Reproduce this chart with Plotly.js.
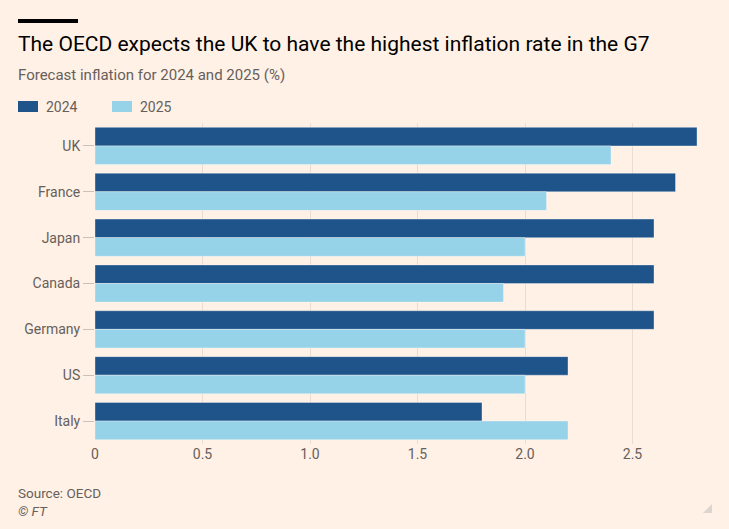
<!DOCTYPE html>
<html><head><meta charset="utf-8">
<script src="https://cdn.plot.ly/plotly-3.0.1.min.js"></script>
<style>html,body{margin:0;padding:0;background:#fff1e5;}#chart{width:729px;height:529px;}</style>
</head><body><div id="chart"></div>
<script>
const countries = ["UK","France","Japan","Canada","Germany","US","Italy"];
const seriesNames = ["2024","2025"];
const values2024 = [2.8,2.7,2.6,2.6,2.6,2.2,1.8];
const values2025 = [2.4,2.1,2.0,1.9,2.0,2.0,2.2];
const xTicks = [0,0.5,1,1.5,2,2.5];
const xTickLabels = ["0","0.5","1.0","1.5","2.0","2.5"];

const colors = ["#1f548a","#96d2e8"];
const font = "Roboto, 'Noto Sans', sans-serif";
const traces = [values2024, values2025].map((v,i)=>({
  type:"bar", orientation:"h", y:countries, x:v, name:seriesNames[i],
  marker:{color:colors[i], line:{color:"rgba(255,255,255,0.35)", width:1}},
  hoverinfo:"x+y", showlegend:false
}));

const W = 602, H = 321, T = 123, B = 444, L = 95;
const px = x => (x - L) / W;
const py = y => (B - y) / H;

const layout = {
  width:729, height:529,
  paper_bgcolor:"#fff1e5", plot_bgcolor:"#fff1e5",
  margin:{l:95, r:32, t:123, b:85},
  barmode:"group", bargap:0.19, bargroupgap:0,
  font:{family:font, color:"#66605c", size:13},
  xaxis:{range:[0,2.8], tickvals:xTicks, ticktext:xTickLabels, showgrid:true,
    gridcolor:"#e9ddd2", gridwidth:1, zeroline:false, showline:false, ticks:"",
    tickfont:{size:14, color:"#66605c"}, fixedrange:true},
  yaxis:{autorange:"reversed", showgrid:false, ticks:"outside", ticklen:11, tickcolor:"#ccc1b7",
    tickfont:{size:14, color:"#66605c"}, showline:false, zeroline:false, fixedrange:true},
  shapes:[
    {type:"rect", xref:"paper", yref:"paper", x0:px(18), x1:px(78), y0:py(19), y1:py(23), fillcolor:"#000", line:{width:0}},
    {type:"rect", xref:"paper", yref:"paper", x0:px(18), x1:px(38), y0:py(101), y1:py(112), fillcolor:colors[0], line:{width:0}},
    {type:"rect", xref:"paper", yref:"paper", x0:px(112), x1:px(132), y0:py(101), y1:py(112), fillcolor:colors[1], line:{width:0}},
    {type:"path", xref:"paper", yref:"paper",
      path:"M "+px(712)+","+py(504)+" L "+px(712)+","+py(513)+" L "+px(703)+","+py(513)+" Z",
      fillcolor:"#ddd5cf", line:{width:0}}
  ],
  annotations:[
    {text:"The OECD expects the UK to have the highest inflation rate in the G7", xref:"paper", yref:"paper",
      x:px(18), y:py(44), xanchor:"left", yanchor:"middle", showarrow:false, xshift:-2,
      font:{family:font, size:21, color:"#000"}},
    {text:"Forecast inflation for 2024 and 2025 (%)", xref:"paper", yref:"paper",
      x:px(18), y:py(75), xanchor:"left", yanchor:"middle", showarrow:false, xshift:-2,
      font:{family:font, size:15, color:"#66605c"}},
    {text:seriesNames[0], xref:"paper", yref:"paper", x:px(46), y:py(106.5), xanchor:"left", yanchor:"middle", showarrow:false, xshift:-2,
      font:{family:font, size:14, color:"#66605c"}},
    {text:seriesNames[1], xref:"paper", yref:"paper", x:px(140), y:py(106.5), xanchor:"left", yanchor:"middle", showarrow:false, xshift:-2,
      font:{family:font, size:14, color:"#66605c"}},
    {text:"Source: OECD", xref:"paper", yref:"paper", x:px(18), y:py(493), xanchor:"left", yanchor:"middle", showarrow:false, xshift:-2,
      font:{family:font, size:13.5, color:"#66605c"}},
    {text:"<i>© FT</i>", xref:"paper", yref:"paper", x:px(18), y:py(511), xanchor:"left", yanchor:"middle", showarrow:false, xshift:-2,
      font:{family:font, size:13.5, color:"#66605c"}}
  ]
};
Plotly.newPlot("chart", traces, layout, {displayModeBar:false, staticPlot:true});
</script></body></html>
